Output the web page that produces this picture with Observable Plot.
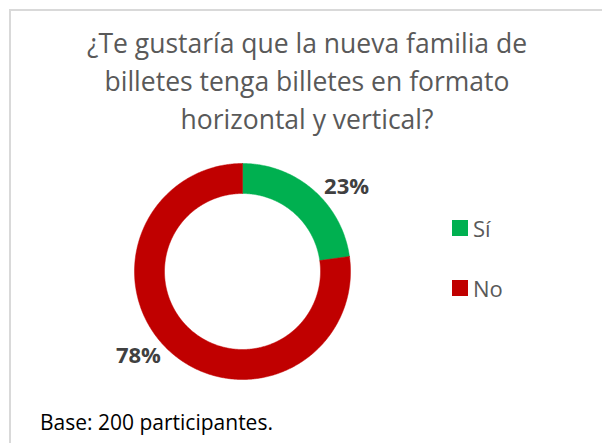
<!DOCTYPE html>
<html>
<head>
<meta charset="utf-8">
<script src="https://cdn.jsdelivr.net/npm/d3@7"></script>
<script src="https://cdn.jsdelivr.net/npm/@observablehq/plot@0.6"></script>
<style>
  html, body { margin: 0; padding: 0; background: #fff; overflow: hidden; }
  #wrap { position: relative; width: 602px; height: 443px; overflow: hidden; font-family: "Open Sans", Lato, sans-serif; }
  #frame { position: absolute; left: 9px; top: 9px; width: 640px; height: 480px; border: 2px solid #d9d9d9; box-sizing: border-box; }
  #title { position: absolute; left: 10px; width: 594px; top: 24px; text-align: center; color: #595959; font-size: 26.5px; line-height: 38px; }
  #chart { position: absolute; left: 81.5px; top: 131px; }
  #legend { position: absolute; left: 452px; top: 214px; color: #595959; font-size: 22px; }
  .item { display: flex; align-items: center; height: 28px; margin-bottom: 31.5px; }
  .sw { width: 16px; height: 16px; margin-right: 5px; }
  #caption { position: absolute; left: 40px; top: 408px; font-size: 21px; color: #000; }
</style>
</head>
<body>
<div id="wrap">
  <div id="frame"></div>
  <div id="title">¿Te gustaría que la nueva familia de<br>billetes tenga billetes en formato<br>horizontal y vertical?</div>
  <div id="chart"></div>
  <div id="legend"></div>
  <div id="caption">Base: 200 participantes.</div>
</div>
<script>
const categories = ["Sí", "No"];
const values = [23, 78];
const labels = ["23%", "78%"];
const colors = ["#00b050", "#c00000"];

const innerRatio = 78 / 108;
const arcs = d3.pie().sort(null).value(d => d)(values);

const rows = [];
arcs.forEach((a, i) => {
  const n = Math.max(8, Math.ceil((a.endAngle - a.startAngle) / 0.01));
  const outer = [], inner = [];
  for (let k = 0; k <= n; k++) {
    const t = a.startAngle + (a.endAngle - a.startAngle) * k / n;
    outer.push({cat: categories[i], x: Math.sin(t), y: Math.cos(t)});
    inner.push({cat: categories[i], x: innerRatio * Math.sin(t), y: innerRatio * Math.cos(t)});
  }
  rows.push(...outer, ...inner.reverse(), outer[0]);
});

const labelRows = arcs.map((a, i) => {
  const t = (a.startAngle + a.endAngle) / 2 + 10 * Math.PI / 180;
  return {x: 1.24 * Math.sin(t), y: 1.24 * Math.cos(t), text: labels[i]};
});

const W = 320, H = 280, D = 216;
const plot = Plot.plot({
  width: W, height: H,
  marginLeft: (W - D) / 2, marginRight: (W - D) / 2,
  marginTop: (H - D) / 2, marginBottom: (H - D) / 2,
  x: {domain: [-1, 1], axis: null},
  y: {domain: [-1, 1], axis: null},
  color: {domain: categories, range: colors},
  style: {fontFamily: "'Open Sans', Lato, sans-serif", background: "transparent", overflow: "visible"},
  marks: [
    Plot.line(rows, {x: "x", y: "y", z: "cat", fill: "cat", stroke: "cat", strokeWidth: 0.5}),
    Plot.text(labelRows, {x: "x", y: "y", text: "text", fontSize: 22, fontWeight: "bold", fill: "#404040"})
  ]
});
document.getElementById("chart").appendChild(plot);

const colorScale = plot.scale("color");
const legend = document.getElementById("legend");
categories.forEach(c => {
  const item = document.createElement("div");
  item.className = "item";
  const sw = document.createElement("span");
  sw.className = "sw";
  sw.style.background = colorScale.apply(c);
  const tx = document.createElement("span");
  tx.textContent = c;
  item.appendChild(sw);
  item.appendChild(tx);
  legend.appendChild(item);
});
</script>
</body>
</html>
